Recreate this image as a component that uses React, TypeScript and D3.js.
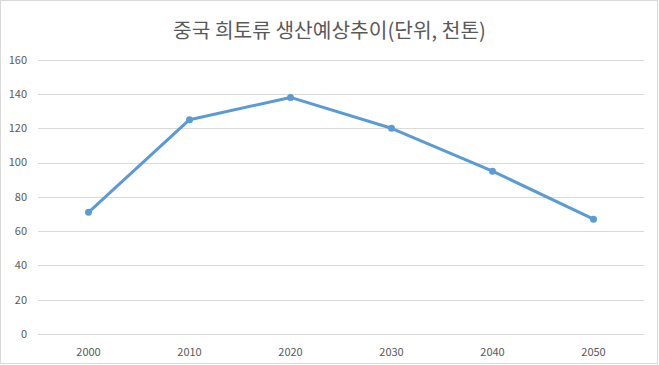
import React from "react";
import * as d3 from "d3";

const title = "중국 희토류 생산예상추이(단위, 천톤)";
const years = ["2000", "2010", "2020", "2030", "2040", "2050"];
const production = [71, 125, 138, 120, 95, 67];
const yTicks = [0, 20, 40, 60, 80, 100, 120, 140, 160];

const W = 659;
const H = 365;
const margin = { left: 38, right: 15, top: 60, bottom: 31 };

export default function App() {
  const x = d3
    .scaleBand<string>()
    .domain(years)
    .range([margin.left, 644])
    .paddingInner(0)
    .paddingOuter(0);
  const y = d3.scaleLinear().domain([0, 160]).range([334, 59.7]);
  const line = d3
    .line<number>()
    .x((_, i) => (x(years[i]) as number) + x.bandwidth() / 2)
    .y((d) => y(d));
  const font = "'Malgun Gothic', 'Noto Sans CJK KR', sans-serif";
  return (
    <svg
      width={W}
      height={H}
      style={{ position: "absolute", left: 0, top: 0, background: "#fff" }}
    >
      <rect x={0.5} y={0.5} width={W - 2} height={H - 2} fill="#fff" stroke="#d9d9d9" />
      <text
        x={W / 2}
        y={37.5}
        textAnchor="middle"
        fontFamily={font}
        fontSize={20.3}
        fill="#595959"
      >
        {title}
      </text>
      {yTicks.map((t) => (
        <g key={t}>
          <line
            x1={margin.left}
            x2={644}
            y1={Math.round(y(t)) + 0.5}
            y2={Math.round(y(t)) + 0.5}
            stroke="#d9d9d9"
            strokeWidth={1}
          />
          <text
            x={27}
            y={y(t)}
            dy="0.35em"
            textAnchor="end"
            fontFamily={font}
            fontSize={11}
            fill="#595959"
          >
            {t}
          </text>
        </g>
      ))}
      {years.map((yr) => (
        <text
          key={yr}
          x={(x(yr) as number) + x.bandwidth() / 2}
          y={352}
          dy="0.35em"
          textAnchor="middle"
          fontFamily={font}
          fontSize={11}
          fill="#595959"
        >
          {yr}
        </text>
      ))}
      <path
        d={line(production) as string}
        fill="none"
        stroke="#5B9BD5"
        strokeWidth={3}
        strokeLinejoin="round"
        strokeLinecap="round"
      />
      {production.map((v, i) => (
        <circle
          key={i}
          cx={(x(years[i]) as number) + x.bandwidth() / 2}
          cy={y(v)}
          r={3.5}
          fill="#5B9BD5"
        />
      ))}
    </svg>
  );
}
